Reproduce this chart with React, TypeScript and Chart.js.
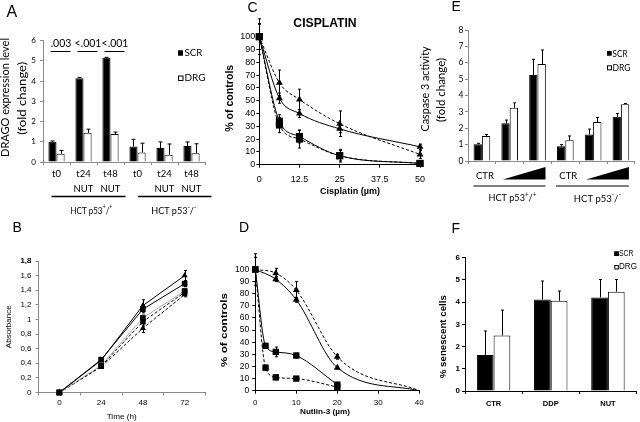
import { useEffect, useRef } from 'react';
import { Chart, registerables } from 'chart.js';

Chart.register(...registerables);

const CAL = 'Lato, "Open Sans", sans-serif';
const ARIAL = '"Liberation Sans", Arial, sans-serif';

// ---------- Panel A ----------
const aCategories = [['t0'], ['t24', 'NUT'], ['t48', 'NUT'], ['t0'], ['t24', 'NUT'], ['t48', 'NUT']];
const aSCR = [1.0, 4.14, 5.15, 0.76, 0.69, 0.79];
const aSCRErr = [0.04, 0.04, 0.02, 0.36, 0.3, 0.2];
const aDRG = [0.41, 1.44, 1.38, 0.47, 0.36, 0.43];
const aDRGErr = [0.16, 0.18, 0.1, 0.46, 0.53, 0.47];
const aPValues = ['.003', '<.001', '<.001'];
const aGroups = ['HCT p53⁺/⁺', 'HCT p53⁻/⁻'];

// ---------- Panel B ----------
const bTimes = ['0', '24', '48', '72'];
const bYTickValues = [0, 0.2, 0.4, 0.6, 0.8, 1, 1.2, 1.4, 1.6, 1.8];
const bYTicks = ['0', '0,2', '0,4', '0,6', '0,8', '1', '1,2', '1,4', '1,6', '1,8'];
const bTriSolid = [0, 0.44, 1.19, 1.6];
const bTriSolidErr = [0, 0.02, 0.08, 0.07];
const bSqSolid = [0, 0.45, 1.14, 1.49];
const bSqSolidErr = [0, 0.02, 0.05, 0.04];
const bSqGrey = [0, 0.37, 1.02, 1.39];
const bSqGreyErr = [0, 0.02, 0.05, 0.04];
const bSqDash = [0, 0.36, 0.97, 1.37];
const bSqDashErr = [0, 0.02, 0.06, 0.04];
const bTriDash = [0, 0.35, 0.88, 1.34];
const bTriDashErr = [0, 0.02, 0.06, 0.03];

// ---------- Panel C ----------
const cDoses = [0, 6.25, 12.5, 25, 50];
const cTriDash = [100, 64, 51, 32, 8];
const cTriDashErr = [14, 10, 8, 10, 3];
const cTriSolid = [100, 52, 40, 28, 14];
const cTriSolidErr = [10, 4, 3, 3, 2];
const cSqSolid = [100, 34, 22, 7, 1];
const cSqSolidErr = [10, 5, 5, 4, 1];
const cSqDash = [100, 31, 20, 7, 1];
const cSqDashErr = [10, 6, 7, 5, 1];

// ---------- Panel D ----------
const dTriDoses = [0, 5, 10, 20, 40];
const dTriDash = [100, 97, 83, 28, 0];
const dTriDashErr = [13, 4, 7, 2, 0];
const dTriSolid = [100, 92, 75, 19, 0];
const dTriSolidErr = [10, 2, 2, 1, 0];
const dSqDoses = [0, 2.5, 5, 10, 20];
const dSqSolid = [100, 37, 32, 29, 5];
const dSqSolidErr = [10, 2, 4, 2, 1];
const dSqDash = [100, 19, 11, 10, 3];
const dSqDashErr = [10, 2, 2, 1, 1];

// ---------- Panel E ----------
const eCategories = ['CTR', '', '', 'CTR', '', ''];
const eSCR = [1.02, 2.3, 5.25, 0.9, 1.62, 2.7];
const eSCRErr = [0.06, 0.2, 0.96, 0.1, 0.33, 0.2];
const eDRG = [1.52, 3.25, 5.92, 1.27, 2.38, 3.47];
const eDRGErr = [0.1, 0.3, 0.86, 0.26, 0.28, 0.04];
const eGroups = ['HCT p53⁺/⁺', 'HCT p53⁻/⁻'];

// ---------- Panel F ----------
const fCategories = ['CTR', 'DDP', 'NUT'];
const fSCR = [1.62, 4.12, 4.21];
const fSCRErr = [1.08, 0.83, 0.81];
const fDRG = [2.5, 4.06, 4.47];
const fDRGErr = [1.14, 0.44, 0.55];

const panelLetters = ['A', 'B', 'C', 'D', 'E', 'F'];

type Area = { l: number; t: number; r: number; b: number };

function drawText(
  ctx: CanvasRenderingContext2D,
  text: string,
  x: number,
  y: number,
  font: string,
  opt: { w?: number; rot?: boolean; align?: CanvasTextAlign; base?: CanvasTextBaseline } = {}
) {
  ctx.save();
  ctx.font = font;
  ctx.fillStyle = '#000';
  ctx.textAlign = opt.align || 'center';
  ctx.textBaseline = opt.base || 'middle';
  ctx.translate(x, y);
  if (opt.rot) ctx.rotate(-Math.PI / 2);
  if (opt.w) {
    const m = ctx.measureText(text).width;
    if (m > 0) ctx.scale(opt.w / m, 1);
  }
  ctx.fillText(text, 0, 0);
  ctx.restore();
}

function drawRich(ctx: CanvasRenderingContext2D, text: string, cx: number, cy: number, size: number, family: string, w?: number) {
  const parts: { t: string; sup: boolean }[] = [];
  for (const ch of text) {
    const sup = ch === '⁺' || ch === '⁻';
    const t = ch === '⁺' ? '+' : ch === '⁻' ? '-' : ch;
    const last = parts[parts.length - 1];
    if (last && last.sup === sup) last.t += t;
    else parts.push({ t, sup });
  }
  ctx.save();
  const fN = `${size}px ${family}`;
  const fS = `${Math.round(size * 0.7)}px ${family}`;
  const ws = parts.map((p) => {
    ctx.font = p.sup ? fS : fN;
    return ctx.measureText(p.t).width;
  });
  const total = ws.reduce((a, b) => a + b, 0);
  const sc = w ? w / total : 1;
  ctx.translate(cx - (total * sc) / 2, cy);
  ctx.scale(sc, 1);
  ctx.textBaseline = 'middle';
  ctx.textAlign = 'left';
  ctx.fillStyle = '#000';
  let x = 0;
  parts.forEach((p, i) => {
    ctx.font = p.sup ? fS : fN;
    ctx.fillText(p.t, x, p.sup ? -size * 0.35 : 0);
    x += ws[i];
  });
  ctx.restore();
}

function hline(ctx: CanvasRenderingContext2D, x1: number, x2: number, y: number, lw = 1) {
  ctx.save();
  ctx.strokeStyle = '#000';
  ctx.lineWidth = lw;
  ctx.beginPath();
  ctx.moveTo(x1, y);
  ctx.lineTo(x2, y);
  ctx.stroke();
  ctx.restore();
}

type LegItem = { sx: number; sy: number; s: number; tx: number; ty: number; tw: number };
function drawLegend(ctx: CanvasRenderingContext2D, chart: any, items: LegItem[], font: string) {
  chart.data.datasets.forEach((ds: any, i: number) => {
    const it = items[i];
    if (!it) return;
    ctx.save();
    ctx.fillStyle = ds.backgroundColor;
    ctx.fillRect(it.sx, it.sy, it.s, it.s);
    ctx.strokeStyle = ds.borderColor;
    ctx.lineWidth = 1;
    ctx.strokeRect(it.sx + 0.5, it.sy + 0.5, it.s - 1, it.s - 1);
    ctx.restore();
    drawText(ctx, ds.label, it.tx, it.ty, font, { w: it.tw, align: 'left' });
  });
}

const errorBarPlugin = {
  id: 'errorBars',
  beforeDatasetsDraw(chart: any) {
    const ctx = chart.ctx;
    chart.data.datasets.forEach((ds: any, i: number) => {
      if (!ds.errors) return;
      const meta = chart.getDatasetMeta(i);
      const yScale = chart.scales[meta.yAxisID];
      ctx.save();
      ctx.strokeStyle = ds.errorColor || '#000';
      ctx.lineWidth = 1;
      const cap = ds.errorCap ?? 3;
      meta.data.forEach((el: any, j: number) => {
        const e = ds.errors[j];
        if (!e) return;
        const v = meta.controller.getParsed(j).y;
        const top = yScale.getPixelForValue(v + e);
        const bottom = ds.errorBoth ? yScale.getPixelForValue(v - e) : el.y;
        const x = Math.round(el.x) + 0.5;
        ctx.beginPath();
        ctx.moveTo(x, top);
        ctx.lineTo(x, bottom);
        ctx.moveTo(x - cap / 2, top);
        ctx.lineTo(x + cap / 2, top);
        if (ds.errorBoth) {
          ctx.moveTo(x - cap / 2, bottom);
          ctx.lineTo(x + cap / 2, bottom);
        }
        ctx.stroke();
      });
      ctx.restore();
    });
  },
};

function baseOptions(area: Area) {
  return {
    animation: false,
    responsive: false,
    devicePixelRatio: 1,
    events: [],
    layout: { padding: { left: 0, top: area.t, right: 640 - area.r, bottom: 0 } },
    plugins: { legend: { display: false }, tooltip: { enabled: false } },
  };
}

function yAxis(area: Area, o: any) {
  const ticks: any = { stepSize: o.step, font: o.font, color: '#000', padding: o.padding, autoSkip: false };
  if (o.callback) ticks.callback = o.callback;
  const ax: any = {
    type: 'linear',
    position: 'left',
    min: o.min,
    max: o.max,
    ticks,
    grid: { drawOnChartArea: false, drawTicks: true, tickLength: 3, color: o.axisColor },
    border: { display: true, color: o.axisColor, width: 1 },
    afterFit: (s: any) => {
      s.width = area.l;
    },
  };
  if (o.tickValues) {
    ax.afterBuildTicks = (s: any) => {
      s.ticks = o.tickValues.map((v: number) => ({ value: v }));
    };
  }
  return ax;
}

function xAxis(area: Area, o: any) {
  const ticks: any = { font: o.font, color: '#000', padding: o.padding, maxRotation: 0, autoSkip: false };
  if (o.step !== undefined) ticks.stepSize = o.step;
  if (o.labelOffset) ticks.labelOffset = o.labelOffset;
  const ax: any = {
    type: o.type,
    position: 'bottom',
    ticks,
    grid: { drawOnChartArea: false, drawTicks: true, tickLength: 3, color: o.axisColor, offset: o.gridOffset },
    border: { display: true, color: o.axisColor, width: 1 },
    afterFit: (s: any) => {
      s.height = 422 - area.b;
    },
  };
  if (o.min !== undefined) ax.min = o.min;
  if (o.max !== undefined) ax.max = o.max;
  if (o.offset !== undefined) ax.offset = o.offset;
  return ax;
}

function lineDs(label: string, xs: number[] | null, ys: number[], errs: number[], o: any) {
  return {
    label,
    data: xs ? xs.map((x, i) => ({ x, y: ys[i] })) : ys,
    borderColor: o.lineColor || '#000',
    backgroundColor: '#000',
    borderWidth: 1,
    borderDash: o.dash ? [3, 2] : [],
    pointStyle: o.style,
    pointRadius: o.radius,
    pointBackgroundColor: '#000',
    pointBorderColor: '#000',
    pointBorderWidth: 0,
    cubicInterpolationMode: o.smooth ? 'monotone' : 'default',
    tension: 0,
    clip: false,
    errors: errs,
    errorBoth: true,
    errorCap: 3,
    errorColor: o.errColor || '#000',
  };
}

// ---------- configs ----------
function configA() {
  const area: Area = { l: 43, t: 40.5, r: 205, b: 162 };
  const grey = '#8a8a8a';
  return {
    type: 'bar',
    data: {
      labels: aCategories,
      datasets: [
        { label: 'SCR', data: aSCR, backgroundColor: '#000', borderColor: '#000', borderWidth: 1, errors: aSCRErr, errorCap: 4 },
        { label: 'DRG', data: aDRG, backgroundColor: '#fff', borderColor: '#000', borderWidth: 1, errors: aDRGErr, errorCap: 4 },
      ],
    },
    options: {
      ...baseOptions(area),
      datasets: { bar: { categoryPercentage: 0.6, barPercentage: 1 } },
      scales: {
        x: xAxis(area, { type: 'category', font: { family: CAL, size: 9.5, lineHeight: 1.6 }, padding: 1.5, axisColor: grey, gridOffset: true }),
        y: yAxis(area, { min: 0, max: 6, step: 1, font: { family: CAL, size: 8 }, padding: 4, axisColor: grey }),
      },
    },
    plugins: [
      errorBarPlugin,
      {
        id: 'decoA',
        afterDraw(chart: any) {
          const ctx = chart.ctx;
          const x = chart.scales.x;
          const c = (i: number) => x.getPixelForValue(i);
          drawText(ctx, panelLetters[0], 6.5, 16.7, `16px ${ARIAL}`, { align: 'left', base: 'alphabetic' });
          drawText(ctx, 'DRAGO expression level', 5.5, 97.5, `11px ${CAL}`, { w: 119, rot: true });
          drawText(ctx, '(fold change)', 22.3, 98.3, `11px ${CAL}`, { w: 73, rot: true });
          aPValues.forEach((p, i) => {
            drawText(ctx, p, c(i) + 4.5, 43.5, `10.5px ${CAL}`);
            hline(ctx, c(i) - 6, c(i) + 14, 51.5, 1);
          });
          const l1 = [c(0) - 5, c(2) + 15];
          const l2 = [c(3) + 0.5, c(5) + 20];
          hline(ctx, l1[0], l1[1], 196.5, 1.3);
          hline(ctx, l2[0], l2[1], 196.5, 1.3);
          drawRich(ctx, aGroups[0], (l1[0] + l1[1]) / 2 + 3, 210.5, 10, CAL, 42);
          drawRich(ctx, aGroups[1], (l2[0] + l2[1]) / 2 - 1, 211, 10, CAL, 45);
          drawLegend(
            ctx,
            chart,
            [
              { sx: 178, sy: 50.5, s: 5, tx: 184.5, ty: 53, tw: 18 },
              { sx: 178, sy: 75.5, s: 5.5, tx: 184.5, ty: 78, tw: 21 },
            ],
            `10px ${CAL}`
          );
        },
      },
    ],
  };
}

function configB() {
  const area: Area = { l: 38.5, t: 261, r: 205.5, b: 392.5 };
  const grey = '#8a8a8a';
  return {
    type: 'line',
    data: {
      labels: bTimes,
      datasets: [
        lineDs('s1', null, bTriSolid, bTriSolidErr, { style: 'triangle', radius: 3.5 }),
        lineDs('s2', null, bSqSolid, bSqSolidErr, { style: 'rect', radius: 4 }),
        lineDs('s3', null, bSqGrey, bSqGreyErr, { style: 'rect', radius: 4, lineColor: '#a8a8a8', errColor: '#999' }),
        lineDs('s4', null, bSqDash, bSqDashErr, { style: 'rect', radius: 4, dash: true }),
        lineDs('s5', null, bTriDash, bTriDashErr, { style: 'triangle', radius: 3.5, dash: true }),
      ],
    },
    options: {
      ...baseOptions(area),
      scales: {
        x: xAxis(area, { type: 'category', offset: true, gridOffset: true, font: { family: ARIAL, size: 8 }, padding: 2.5, axisColor: grey }),
        y: yAxis(area, {
          min: 0,
          max: 1.8,
          step: 0.2,
          font: { family: ARIAL, size: 8 },
          padding: 4,
          axisColor: grey,
          tickValues: bYTickValues,
          callback: (_v: any, i: number) => bYTicks[i] ?? '',
        }),
      },
    },
    plugins: [
      errorBarPlugin,
      {
        id: 'decoB',
        afterDraw(chart: any) {
          const ctx = chart.ctx;
          const y = chart.scales.y;
          // make sure the top tick label of the scale is shown (same text, same spot as the scale's own label)
          const lastIdx = bYTickValues.length - 1;
          drawText(ctx, bYTicks[lastIdx], y.right - 7, y.getPixelForValue(bYTickValues[lastIdx]), `8px ${ARIAL}`, { align: 'right' });
          drawText(ctx, panelLetters[1], 12.5, 232, `14px ${ARIAL}`, { align: 'left', base: 'alphabetic' });
          drawText(ctx, 'Absorbance', 8.3, 326.7, `8px ${ARIAL}`, { w: 43, rot: true });
          drawText(ctx, 'Time (h)', 121.7, 416.5, `8px ${ARIAL}`, { w: 30 });
        },
      },
    ],
  };
}

function configC() {
  const area: Area = { l: 259.3, t: 36.7, r: 420, b: 164.7 };
  return {
    type: 'line',
    data: {
      datasets: [
        lineDs('tri-dash', cDoses, cTriDash, cTriDashErr, { style: 'triangle', radius: 4, dash: true, smooth: true }),
        lineDs('tri', cDoses, cTriSolid, cTriSolidErr, { style: 'triangle', radius: 4, smooth: true }),
        lineDs('sq', cDoses, cSqSolid, cSqSolidErr, { style: 'rect', radius: 5, smooth: true }),
        lineDs('sq-dash', cDoses, cSqDash, cSqDashErr, { style: 'rect', radius: 5, dash: true, smooth: true }),
      ],
    },
    options: {
      ...baseOptions(area),
      scales: {
        x: xAxis(area, { type: 'linear', min: 0, max: 50, step: 12.5, font: { family: ARIAL, size: 9 }, padding: 6, axisColor: '#000' }),
        y: yAxis(area, { min: 0, max: 100, step: 10, font: { family: ARIAL, size: 9 }, padding: 1, axisColor: '#000' }),
      },
    },
    plugins: [
      errorBarPlugin,
      {
        id: 'decoC',
        afterDraw(chart: any) {
          const ctx = chart.ctx;
          drawText(ctx, panelLetters[2], 247.5, 11.7, `14px ${ARIAL}`, { align: 'left', base: 'alphabetic' });
          drawText(ctx, 'CISPLATIN', 325, 23.3, `bold 12px ${ARIAL}`, { w: 63.3 });
          drawText(ctx, '% of controls', 230, 98.3, `bold 10.5px ${ARIAL}`, { w: 67, rot: true });
          drawText(ctx, 'Cisplatin (µm)', 350, 191.7, `bold 9px ${ARIAL}`, { w: 60 });
        },
      },
    ],
  };
}

function configD() {
  const area: Area = { l: 255.3, t: 269.5, r: 419.3, b: 390.7 };
  const triR = [4, 4, 4, 4, 0];
  const dsTriDash: any = lineDs('tri-dash', dTriDoses, dTriDash, dTriDashErr, { style: 'triangle', radius: 4, dash: true, smooth: true });
  const dsTri: any = lineDs('tri', dTriDoses, dTriSolid, dTriSolidErr, { style: 'triangle', radius: 4, smooth: true });
  dsTriDash.pointRadius = triR;
  dsTri.pointRadius = triR;
  return {
    type: 'line',
    data: {
      datasets: [
        dsTriDash,
        dsTri,
        lineDs('sq', dSqDoses, dSqSolid, dSqSolidErr, { style: 'rect', radius: 4.5, smooth: true }),
        lineDs('sq-dash', dSqDoses, dSqDash, dSqDashErr, { style: 'rect', radius: 4.5, dash: true, smooth: true }),
      ],
    },
    options: {
      ...baseOptions(area),
      scales: {
        x: xAxis(area, { type: 'linear', min: 0, max: 40, step: 10, font: { family: ARIAL, size: 8 }, padding: 4.5, axisColor: '#000' }),
        y: yAxis(area, { min: 0, max: 100, step: 10, font: { family: ARIAL, size: 8.5 }, padding: 3, axisColor: '#000' }),
      },
    },
    plugins: [
      errorBarPlugin,
      {
        id: 'decoD',
        afterDraw(chart: any) {
          const ctx = chart.ctx;
          drawText(ctx, panelLetters[3], 239, 232, `14px ${ARIAL}`, { align: 'left', base: 'alphabetic' });
          drawText(ctx, '% of controls', 225, 330, `bold 8.5px ${ARIAL}`, { w: 74, rot: true });
          drawText(ctx, 'Nutlin-3 (µm)', 325, 411.7, `bold 8px ${ARIAL}`, { w: 50 });
        },
      },
    ],
  };
}

function configE() {
  const area: Area = { l: 468, t: 30, r: 634.8, b: 161 };
  const grey = '#8a8a8a';
  return {
    type: 'bar',
    data: {
      labels: eCategories,
      datasets: [
        { label: 'SCR', data: eSCR, backgroundColor: '#000', borderColor: '#000', borderWidth: 1, errors: eSCRErr, errorCap: 3 },
        { label: 'DRG', data: eDRG, backgroundColor: '#fff', borderColor: '#000', borderWidth: 1, errors: eDRGErr, errorCap: 3 },
      ],
    },
    options: {
      ...baseOptions(area),
      datasets: { bar: { categoryPercentage: 0.6, barPercentage: 1 } },
      scales: {
        x: xAxis(area, { type: 'category', font: { family: CAL, size: 9.5 }, padding: 6.5, labelOffset: 3, axisColor: grey, gridOffset: true }),
        y: yAxis(area, { min: 0, max: 8, step: 1, font: { family: CAL, size: 8.5 }, padding: 1.5, axisColor: grey }),
      },
    },
    plugins: [
      errorBarPlugin,
      {
        id: 'decoE',
        afterDraw(chart: any) {
          const ctx = chart.ctx;
          const x = chart.scales.x;
          const c = (i: number) => x.getPixelForValue(i);
          drawText(ctx, panelLetters[4], 451.5, 10.7, `14px ${ARIAL}`, { align: 'left', base: 'alphabetic' });
          drawText(ctx, 'Caspase 3 activity', 425.5, 89, `11px ${CAL}`, { w: 85, rot: true });
          drawText(ctx, '(fold change)', 441, 90, `11px ${CAL}`, { w: 64, rot: true });
          ctx.save();
          ctx.fillStyle = '#000';
          [[1, 2], [4, 5]].forEach(([a, b]) => {
            const xl = c(a) - 7;
            const xr = c(b) + 8;
            ctx.beginPath();
            ctx.moveTo(xl, 179.5);
            ctx.lineTo(xr, 179.5);
            ctx.lineTo(xr, 167);
            ctx.closePath();
            ctx.fill();
          });
          ctx.restore();
          const l1 = [c(0) - 8.5, c(2) + 8];
          const l2 = [c(3) - 9.5, c(5) + 8];
          hline(ctx, l1[0], l1[1], 186, 1.2);
          hline(ctx, l2[0], l2[1], 186, 1.2);
          drawRich(ctx, eGroups[0], (l1[0] + l1[1]) / 2 + 3, 198, 10, CAL, 48);
          drawRich(ctx, eGroups[1], (l2[0] + l2[1]) / 2 + 5, 198.5, 10, CAL, 47);
          drawLegend(
            ctx,
            chart,
            [
              { sx: 607, sy: 51, s: 4.5, tx: 612.5, ty: 53.5, tw: 15 },
              { sx: 607, sy: 65.3, s: 5, tx: 612.5, ty: 67.7, tw: 18 },
            ],
            `10px ${CAL}`
          );
        },
      },
    ],
  };
}

function configF() {
  const area: Area = { l: 465, t: 257.7, r: 636.5, b: 391 };
  return {
    type: 'bar',
    data: {
      labels: fCategories,
      datasets: [
        { label: 'SCR', data: fSCR, backgroundColor: '#000', borderColor: '#000', borderWidth: 1, errors: fSCRErr, errorCap: 3 },
        { label: 'DRG', data: fDRG, backgroundColor: '#fff', borderColor: '#000', borderWidth: 1, errors: fDRGErr, errorCap: 3 },
      ],
    },
    options: {
      ...baseOptions(area),
      datasets: { bar: { categoryPercentage: 0.585, barPercentage: 1 } },
      scales: {
        x: xAxis(area, { type: 'category', font: { family: ARIAL, size: 7.5, weight: 'bold' }, padding: 5.5, axisColor: '#000', gridOffset: true }),
        y: yAxis(area, { min: 0, max: 6, step: 1, font: { family: ARIAL, size: 8, weight: 'bold' }, padding: 2, axisColor: '#000' }),
      },
    },
    plugins: [
      errorBarPlugin,
      {
        id: 'decoF',
        afterDraw(chart: any) {
          const ctx = chart.ctx;
          drawText(ctx, panelLetters[5], 451.5, 233, `14px ${ARIAL}`, { align: 'left', base: 'alphabetic' });
          drawText(ctx, '% senescent cells', 443, 336.7, `bold 9.5px ${ARIAL}`, { w: 83, rot: true });
          drawLegend(
            ctx,
            chart,
            [
              { sx: 614.3, sy: 251.5, s: 4.5, tx: 619, ty: 253.7, tw: 14.5 },
              { sx: 614.3, sy: 265, s: 4.5, tx: 619, ty: 267, tw: 18 },
            ],
            `9px ${ARIAL}`
          );
        },
      },
    ],
  };
}

// Panel B is placed last so that its canvas sits on top of the others.
const drawOrder = [0, 2, 3, 4, 5, 1];

export default function App() {
  const refs = useRef<(HTMLCanvasElement | null)[]>([]);
  useEffect(() => {
    document.body.style.margin = '0';
    const configs = [configA(), configB(), configC(), configD(), configE(), configF()];
    const charts = configs.map((cfg, i) => new Chart(refs.current[i] as HTMLCanvasElement, cfg as any));
    return () => charts.forEach((ch) => ch.destroy());
  }, []);
  return (
    <div style={{ position: 'relative', width: 640, height: 422, background: '#fff', overflow: 'hidden' }}>
      {drawOrder.map((i) => (
        <canvas
          key={i}
          ref={(el) => {
            refs.current[i] = el;
          }}
          width={640}
          height={422}
          style={{ position: 'absolute', left: 0, top: 0, width: 640, height: 422 }}
        />
      ))}
    </div>
  );
}
